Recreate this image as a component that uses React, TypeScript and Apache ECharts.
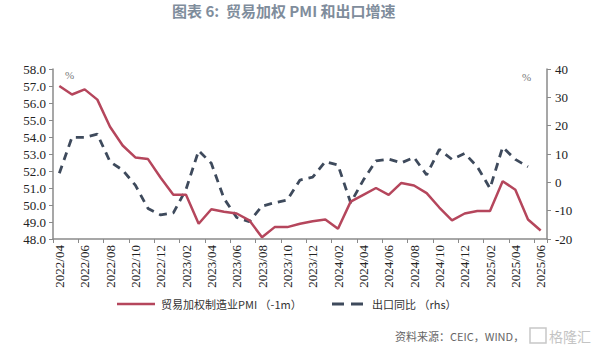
import React, { useEffect, useRef } from "react";
import * as echarts from "echarts";

const categories = [
  "2022/04","2022/05","2022/06","2022/07","2022/08","2022/09","2022/10","2022/11","2022/12",
  "2023/01","2023/02","2023/03","2023/04","2023/05","2023/06","2023/07","2023/08","2023/09","2023/10","2023/11","2023/12",
  "2024/01","2024/02","2024/03","2024/04","2024/05","2024/06","2024/07","2024/08","2024/09","2024/10","2024/11","2024/12",
  "2025/01","2025/02","2025/03","2025/04","2025/05","2025/06",
];

const pmiWeighted = [
  57.0, 56.5, 56.8, 56.2, 54.6, 53.5, 52.8, 52.7, 51.6,
  50.6, 50.6, 48.9, 49.75, 49.6, 49.5, 49.1, 48.1, 48.7, 48.7, 48.9, 49.05,
  49.15, 48.6, 50.2, 50.6, 51.0, 50.6, 51.3, 51.15, 50.7, 49.85, 49.1, 49.5,
  49.65, 49.65, 51.4, 50.9, 49.15, 48.5,
];

const exportYoY: (number | null)[] = [
  3.2, 15.9, 15.9, 17.0, 7.3, 4.3, -1.0, -9.2, -11.5,
  -10.8, -2.5, 11.2, 6.7, -5.7, -12.4, -13.9, -8.4, -7.2, -6.2, 0.8, 1.8,
  7.3, 6.1, -7.2, 0.8, 7.6, 8.2, 6.9, 8.8, 2.6, 11.6, 8.1, 10.2,
  5.5, -2.1, 12.4, 8.1, 5.5, null,
];

const titleText = "图表 6:  贸易加权 PMI 和出口增速";
const legendNames = ["贸易加权制造业PMI （-1m）", "出口同比 （rhs）"];
const sourceText = "资料来源：CEIC，WIND，";

const RED = "#b5465c";
const BLUE = "#3e4a5c";
const AXIS = "#8a8a8a";
const SERIF = "'Liberation Serif', 'Times New Roman', serif";
const CJK = "'Noto Sans CJK SC', 'Noto Sans', sans-serif";

export default function App() {
  const ref = useRef<HTMLDivElement>(null);
  useEffect(() => {
    if (!ref.current) return;
    const chart = echarts.init(ref.current, undefined, { renderer: "svg" });
    chart.setOption({
      animation: false,
      backgroundColor: "#ffffff",
      grid: { left: 53, right: 54, top: 69, bottom: 117, containLabel: false },
      xAxis: {
        type: "category",
        data: categories,
        boundaryGap: true,
        axisLine: { onZero: false, lineStyle: { color: AXIS, width: 1.5 } },
        axisTick: { show: true, interval: 1, length: 4, lineStyle: { color: AXIS } },
        axisLabel: {
          interval: 1,
          rotate: 90,
          margin: 6,
          fontFamily: SERIF,
          fontSize: 13,
          color: "#222",
        },
        splitLine: { show: false },
      },
      yAxis: [
        {
          type: "value",
          min: 48,
          max: 58,
          interval: 1,
          axisLine: { show: true, lineStyle: { color: AXIS, width: 1.5 } },
          axisTick: { show: true, length: 4, lineStyle: { color: AXIS } },
          axisLabel: {
            formatter: (v: number) => v.toFixed(1),
            fontFamily: SERIF,
            fontSize: 13,
            color: "#222",
            margin: 7,
          },
          splitLine: { show: false },
        },
        {
          type: "value",
          min: -20,
          max: 40,
          interval: 10,
          position: "right",
          axisLine: { show: true, lineStyle: { color: AXIS, width: 1.5 } },
          axisTick: { show: true, length: 4, lineStyle: { color: AXIS } },
          axisLabel: {
            fontFamily: SERIF,
            fontSize: 13,
            color: "#222",
            margin: 8,
          },
          splitLine: { show: false },
        },
      ],
      series: [
        {
          name: legendNames[0],
          type: "line",
          data: pmiWeighted,
          yAxisIndex: 0,
          symbol: "none",
          lineStyle: { color: RED, width: 2.5 },
          z: 3,
        },
        {
          name: legendNames[1],
          type: "line",
          data: exportYoY,
          yAxisIndex: 1,
          symbol: "none",
          lineStyle: { color: BLUE, width: 2.8, type: [8, 6] },
          z: 2,
        },
      ],
      graphic: [
        {
          type: "text",
          x: 172,
          y: 3,
          style: {
            text: titleText,
            fontFamily: CJK,
            fontSize: 15,
            fontWeight: "bold",
            fill: "#7f8d9c",
          },
        },
        {
          type: "text",
          x: 65,
          y: 69,
          style: { text: "%", fontFamily: SERIF, fontSize: 11, fill: "#777" },
        },
        {
          type: "text",
          x: 522,
          y: 71,
          style: { text: "%", fontFamily: SERIF, fontSize: 11, fill: "#777" },
        },
        {
          type: "line",
          shape: { x1: 117, y1: 304, x2: 155, y2: 304 },
          style: { stroke: RED, lineWidth: 2.5 },
        },
        {
          type: "text",
          x: 161,
          y: 304,
          style: {
            text: legendNames[0],
            fontFamily: CJK,
            fontSize: 11,
            fill: "#333",
            verticalAlign: "middle",
          },
        },
        {
          type: "line",
          shape: { x1: 332, y1: 304, x2: 364, y2: 304 },
          style: { stroke: BLUE, lineWidth: 2.8, lineDash: [12, 7] },
        },
        {
          type: "text",
          x: 372,
          y: 304,
          style: {
            text: legendNames[1],
            fontFamily: CJK,
            fontSize: 11,
            fill: "#333",
            verticalAlign: "middle",
          },
        },
        {
          type: "text",
          x: 395,
          y: 336,
          style: {
            text: sourceText,
            fontFamily: CJK,
            fontSize: 11,
            fill: "#666",
            verticalAlign: "middle",
          },
        },
        {
          type: "rect",
          shape: { x: 530, y: 328, width: 16, height: 15 },
          style: { fill: "none", stroke: "#c8c8c8", lineWidth: 1.5 },
        },
        {
          type: "text",
          x: 549,
          y: 336,
          style: {
            text: "格隆汇",
            fontFamily: CJK,
            fontSize: 14,
            fill: "#c4c4c4",
            verticalAlign: "middle",
          },
        },
      ],
    });
    return () => chart.dispose();
  }, []);
  return (
    <div
      ref={ref}
      style={{ position: "fixed", left: 0, top: 0, width: 601, height: 356 }}
    />
  );
}
